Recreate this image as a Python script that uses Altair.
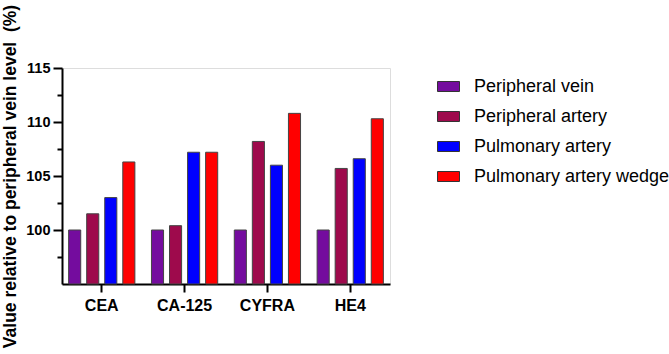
import altair as alt
import pandas as pd

categories = ["CEA", "CA-125", "CYFRA", "HE4"]
series = ["Peripheral vein", "Peripheral artery", "Pulmonary artery", "Pulmonary artery wedge"]
peripheral_vein = [100.0, 100.0, 100.0, 100.0]
peripheral_artery = [101.5, 100.4, 108.2, 105.7]
pulmonary_artery = [103.0, 107.2, 106.0, 106.6]
pulmonary_wedge = [106.3, 107.2, 110.8, 110.3]
colors = ["#740C9E", "#9E0A4C", "#0000FF", "#FF0000"]
y_ticks = [97.5, 100, 102.5, 105, 107.5, 110, 112.5, 115]
y_min, y_max = 95, 115

rows = []
for s, vals in zip(series, [peripheral_vein, peripheral_artery, pulmonary_artery, pulmonary_wedge]):
    for c, v in zip(categories, vals):
        rows.append({"marker": c, "site": s, "value": v})
df = pd.DataFrame(rows)

FONT = "Liberation Sans"

bars = alt.Chart(df).mark_bar(stroke="#444444", strokeWidth=1).encode(
    x=alt.X("marker:N", sort=categories,
            scale=alt.Scale(paddingInner=0.2, paddingOuter=0.08),
            axis=alt.Axis(title=None, labelAngle=0, labelFont=FONT, labelFontSize=16,
                          labelFontWeight="bold", labelColor="black", labelPadding=5,
                          tickSize=8, tickWidth=2, tickColor="black",
                          domainWidth=2, domainColor="black")),
    xOffset=alt.XOffset("site:N", sort=series,
                        scale=alt.Scale(paddingInner=0.33, paddingOuter=0)),
    y=alt.Y("value:Q", scale=alt.Scale(domain=[y_min, y_max], nice=False, zero=False),
            axis=alt.Axis(title="Value relative to peripheral vein level\u00a0\u00a0(%)",
                          values=y_ticks,
                          labelExpr="datum.value % 5 == 0 ? datum.label : ''",
                          labelFont=FONT, labelFontSize=14.5, labelFontWeight="bold",
                          labelColor="black", labelPadding=3,
                          tickSize={"condition": {"test": "datum.value % 5 == 0", "value": 9}, "value": 5},
                          tickWidth=2, tickColor="black",
                          domainWidth=2, domainColor="black", grid=False,
                          titleFont=FONT, titleFontSize=17.5, titleFontWeight="bold",
                          titleColor="black", titleAngle=270, titleBaseline="middle",
                          titleX=-52, titleY=108, titleLimit=400)),
    y2=alt.Y2(datum=y_min),
    color=alt.Color("site:N", sort=series,
                    scale=alt.Scale(domain=series, range=colors),
                    legend=alt.Legend(title=None, orient="none", legendX=375, legendY=7,
                                      symbolType="M-1,-0.4545H1V0.4545H-1Z", symbolSize=484,
                                      symbolStrokeColor="#333333", symbolStrokeWidth=1,
                                      labelFont=FONT, labelFontSize=18, labelColor="black",
                                      labelLimit=300,
                                      labelOffset=14, rowPadding=9, padding=0)),
)

chart = bars.properties(
    width=328, height=216,
    autosize=alt.AutoSizeParams(type="none"),
    padding={"left": 62, "top": 68, "right": 279, "bottom": 70},
).configure_view(stroke=None).configure(background="white")

chart.save("out.html", embed_options={"renderer": "svg", "actions": False})
